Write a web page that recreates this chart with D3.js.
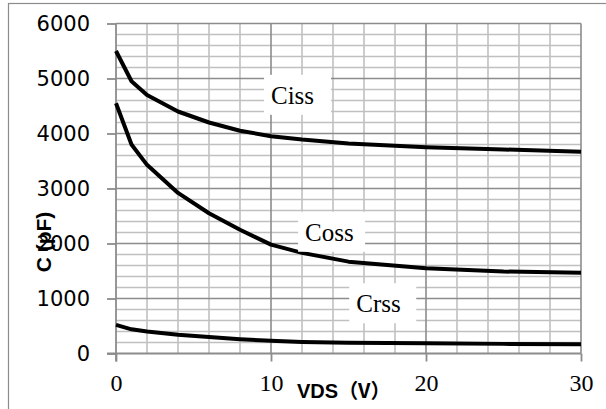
<!DOCTYPE html>
<html>
<head>
<meta charset="utf-8">
<script src="https://cdn.jsdelivr.net/npm/d3@7"></script>
<style>
  body { margin: 0; background: #fff; }
</style>
</head>
<body>
<script>
// VDS (V) sample points, shared by the three curves
let vds = [0, 1, 2, 4, 6, 8, 10, 12, 15, 20, 25, 30];
let ciss = [5500, 4950, 4700, 4400, 4200, 4050, 3950, 3890, 3820, 3750, 3710, 3670];
let coss = [4550, 3800, 3430, 2920, 2550, 2250, 1980, 1830, 1670, 1550, 1490, 1470];
let crss = [520, 440, 400, 340, 300, 260, 230, 210, 195, 185, 175, 170];

let seriesNames = ["Ciss", "Coss", "Crss"];
// label anchors in data units (VDS, pF)
let labelX = [10, 12.2, 15.5];
let labelY = [4540, 2050, 750];

let xTicks = [0, 10, 20, 30];
let yTicks = [0, 1000, 2000, 3000, 4000, 5000, 6000];

let W = 606, H = 409;

let svg = d3.select("body").append("svg").attr("width", W).attr("height", H);

// outer frame (only left and top edges show in the picture)
svg.append("rect")
    .attr("x", 8.5).attr("y", 3.5)
    .attr("width", 620).attr("height", 430)
    .attr("fill", "none").attr("stroke", "#8c8c8c").attr("stroke-width", 1.2);

let x = d3.scaleLinear().domain([0, 30]).range([116, 581]);
let y = d3.scaleLinear().domain([0, 6000]).range([353.5, 23.5]);

let grid = svg.append("g");

// minor grid
grid.selectAll("line.vminor")
    .data(d3.range(2, 30, 2).filter(d => d % 10 != 0))
    .enter().append("line")
        .attr("class", "vminor")
        .attr("x1", d => x(d)).attr("x2", d => x(d))
        .attr("y1", y(6000)).attr("y2", y(0))
        .attr("stroke", "#c0c0c0").attr("stroke-width", 1.6);

grid.selectAll("line.hminor")
    .data(d3.range(200, 6000, 200).filter(d => d % 1000 != 0))
    .enter().append("line")
        .attr("class", "hminor")
        .attr("x1", x(0)).attr("x2", x(30))
        .attr("y1", d => y(d)).attr("y2", d => y(d))
        .attr("stroke", "#c0c0c0").attr("stroke-width", 1.6);

// major grid
grid.selectAll("line.hmajor")
    .data(yTicks.slice(1))
    .enter().append("line")
        .attr("class", "hmajor")
        .attr("x1", x(0)).attr("x2", x(30))
        .attr("y1", d => y(d)).attr("y2", d => y(d))
        .attr("stroke", "#8c8c8c").attr("stroke-width", 1.6);

grid.selectAll("line.vmajor")
    .data(xTicks.slice(1))
    .enter().append("line")
        .attr("class", "vmajor")
        .attr("x1", d => x(d)).attr("x2", d => x(d))
        .attr("y1", y(6000)).attr("y2", y(0))
        .attr("stroke", "#8c8c8c").attr("stroke-width", 1.6);

// axes
let xAxis = svg.append("g")
    .attr("transform", "translate(0," + y(0) + ")")
    .call(d3.axisBottom(x).tickValues(xTicks).tickFormat(d3.format("d"))
        .tickSizeInner(8).tickSizeOuter(0).tickPadding(12));

xAxis.select(".domain").attr("stroke", "#8c8c8c").attr("stroke-width", 1.8)
    .attr("d", "M" + (x(0) - 9) + ",0H" + x(30));
xAxis.selectAll(".tick line").attr("stroke", "#8c8c8c").attr("stroke-width", 1.8);
xAxis.selectAll(".tick text")
    .attr("font-family", "Liberation Serif, serif")
    .attr("font-size", 24).attr("fill", "#000");

let yAxis = svg.append("g")
    .attr("transform", "translate(" + x(0) + ",0)")
    .call(d3.axisLeft(y).tickValues(yTicks).tickFormat(d3.format("d"))
        .tickSizeInner(9).tickSizeOuter(0).tickPadding(17));

yAxis.select(".domain").attr("stroke", "#8c8c8c").attr("stroke-width", 1.8)
    .attr("d", "M0," + y(6000) + "V" + (y(0) + 8));
yAxis.selectAll(".tick line").attr("stroke", "#8c8c8c").attr("stroke-width", 1.8);
yAxis.selectAll(".tick text")
    .attr("font-family", "DejaVu Sans, sans-serif")
    .attr("font-size", 21).attr("fill", "#000");

// curves (straight segments between points, like the source)
let allSeries = [ciss, coss, crss];
let line = d3.line()
    .x((d, i) => x(vds[i]))
    .y(d => y(d));

svg.selectAll("path.curve")
    .data(allSeries)
    .enter().append("path")
        .attr("class", "curve")
        .attr("d", line)
        .attr("fill", "none")
        .attr("stroke", "#000")
        .attr("stroke-width", 4)
        .attr("stroke-linejoin", "round");

// series labels with white boxes
let labels = svg.selectAll("g.lab")
    .data(seriesNames)
    .enter().append("g")
        .attr("class", "lab")
        .attr("transform", (d, i) => "translate(" + x(labelX[i]) + "," + y(labelY[i]) + ")");

labels.append("rect")
    .attr("x", -7).attr("y", -29)
    .attr("width", 67).attr("height", 40)
    .attr("fill", "#fff");

labels.append("text")
    .text(d => d)
    .attr("font-family", "Liberation Serif, serif")
    .attr("font-size", 25)
    .attr("fill", "#000");

// axis titles
let xTitle = svg.append("text")
    .attr("x", 297).attr("y", 398)
    .attr("font-family", "Liberation Sans, sans-serif")
    .attr("font-weight", "bold")
    .attr("font-size", 20);
xTitle.append("tspan").text("VDS");
xTitle.append("tspan")
    .attr("font-family", "Noto Sans CJK SC, sans-serif")
    .text("（V）");

svg.append("text")
    .attr("transform", "translate(51,242) rotate(-90)")
    .attr("text-anchor", "middle")
    .attr("font-family", "Liberation Sans, sans-serif")
    .attr("font-weight", "bold")
    .attr("font-size", 21)
    .text("C (pF)");
</script>
</body>
</html>
